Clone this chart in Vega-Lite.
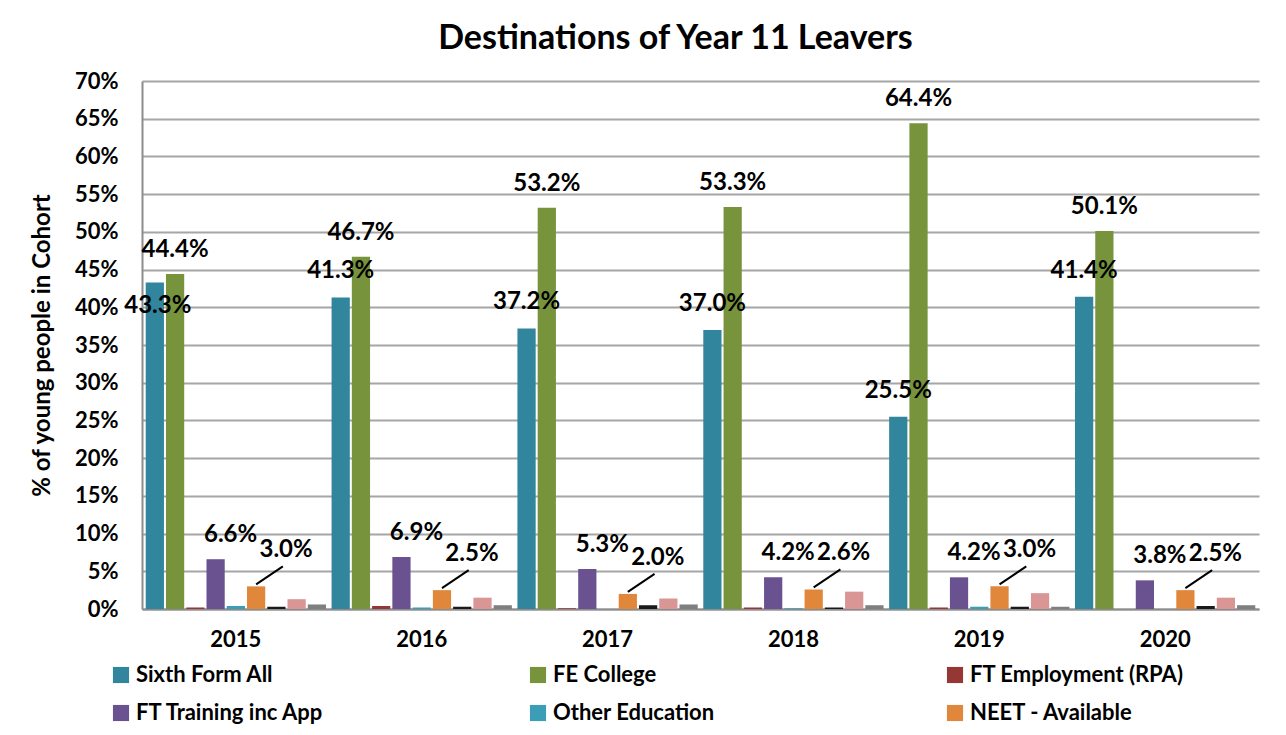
{
  "$schema": "https://vega.github.io/schema/vega-lite/v6.json",
  "width": 1117,
  "height": 528,
  "padding": {"left": 30, "top": 22, "right": 10, "bottom": 5},
  "background": "white",
  "title": {"text": "Destinations of Year 11 Leavers", "font": "Lato", "fontSize": 34, "fontWeight": "bold", "color": "black", "anchor": "middle", "dx": -25, "offset": 14},
  "data": {"values": [
    {"year": "2015", "series": "Sixth Form All", "value": 0.433},
    {"year": "2015", "series": "FE College", "value": 0.444},
    {"year": "2015", "series": "FT Employment (RPA)", "value": 0.002},
    {"year": "2015", "series": "FT Training inc App", "value": 0.066},
    {"year": "2015", "series": "Other Education", "value": 0.004},
    {"year": "2015", "series": "NEET - Available", "value": 0.030},
    {"year": "2015", "series": "NEET - Not Available", "value": 0.003},
    {"year": "2015", "series": "Not Known", "value": 0.013},
    {"year": "2015", "series": "Left Area", "value": 0.006},
    {"year": "2016", "series": "Sixth Form All", "value": 0.413},
    {"year": "2016", "series": "FE College", "value": 0.467},
    {"year": "2016", "series": "FT Employment (RPA)", "value": 0.004},
    {"year": "2016", "series": "FT Training inc App", "value": 0.069},
    {"year": "2016", "series": "Other Education", "value": 0.002},
    {"year": "2016", "series": "NEET - Available", "value": 0.025},
    {"year": "2016", "series": "NEET - Not Available", "value": 0.003},
    {"year": "2016", "series": "Not Known", "value": 0.015},
    {"year": "2016", "series": "Left Area", "value": 0.005},
    {"year": "2017", "series": "Sixth Form All", "value": 0.372},
    {"year": "2017", "series": "FE College", "value": 0.532},
    {"year": "2017", "series": "FT Employment (RPA)", "value": 0.001},
    {"year": "2017", "series": "FT Training inc App", "value": 0.053},
    {"year": "2017", "series": "Other Education", "value": 0.0},
    {"year": "2017", "series": "NEET - Available", "value": 0.020},
    {"year": "2017", "series": "NEET - Not Available", "value": 0.005},
    {"year": "2017", "series": "Not Known", "value": 0.014},
    {"year": "2017", "series": "Left Area", "value": 0.006},
    {"year": "2018", "series": "Sixth Form All", "value": 0.370},
    {"year": "2018", "series": "FE College", "value": 0.533},
    {"year": "2018", "series": "FT Employment (RPA)", "value": 0.002},
    {"year": "2018", "series": "FT Training inc App", "value": 0.042},
    {"year": "2018", "series": "Other Education", "value": 0.001},
    {"year": "2018", "series": "NEET - Available", "value": 0.026},
    {"year": "2018", "series": "NEET - Not Available", "value": 0.002},
    {"year": "2018", "series": "Not Known", "value": 0.023},
    {"year": "2018", "series": "Left Area", "value": 0.005},
    {"year": "2019", "series": "Sixth Form All", "value": 0.255},
    {"year": "2019", "series": "FE College", "value": 0.644},
    {"year": "2019", "series": "FT Employment (RPA)", "value": 0.002},
    {"year": "2019", "series": "FT Training inc App", "value": 0.042},
    {"year": "2019", "series": "Other Education", "value": 0.003},
    {"year": "2019", "series": "NEET - Available", "value": 0.030},
    {"year": "2019", "series": "NEET - Not Available", "value": 0.003},
    {"year": "2019", "series": "Not Known", "value": 0.021},
    {"year": "2019", "series": "Left Area", "value": 0.003},
    {"year": "2020", "series": "Sixth Form All", "value": 0.414},
    {"year": "2020", "series": "FE College", "value": 0.501},
    {"year": "2020", "series": "FT Employment (RPA)", "value": 0.0},
    {"year": "2020", "series": "FT Training inc App", "value": 0.038},
    {"year": "2020", "series": "Other Education", "value": 0.0},
    {"year": "2020", "series": "NEET - Available", "value": 0.025},
    {"year": "2020", "series": "NEET - Not Available", "value": 0.004},
    {"year": "2020", "series": "Not Known", "value": 0.015},
    {"year": "2020", "series": "Left Area", "value": 0.005}
  ]},
  "encoding": {
    "x": {"field": "year", "type": "nominal", "title": null,
      "scale": {"paddingInner": 0.03, "paddingOuter": 0.02},
      "axis": {"labelAngle": 0, "labelFont": "Lato", "labelFontSize": 22, "labelFontWeight": "bold", "labelColor": "black", "labelPadding": 20, "ticks": false, "domainColor": "#8C8C8C", "domainWidth": 2}},
    "xOffset": {"field": "series", "type": "nominal",
      "scale": {"domain": ["Sixth Form All", "FE College", "FT Employment (RPA)", "FT Training inc App", "Other Education", "NEET - Available", "NEET - Not Available", "Not Known", "Left Area"], "paddingInner": 0.1}},
    "y": {"field": "value", "type": "quantitative", "title": "% of young people in Cohort",
      "scale": {"domain": [0, 0.7], "nice": false},
      "axis": {"format": ".0%", "values": [0, 0.05, 0.1, 0.15, 0.2, 0.25, 0.3, 0.35, 0.4, 0.45, 0.5, 0.55, 0.6, 0.65, 0.7], "labelOverlap": false,
        "labelFont": "Lato", "labelFontSize": 22, "labelFontWeight": "bold", "labelColor": "black", "labelPadding": 24, "ticks": false,
        "domainColor": "#8C8C8C", "domainWidth": 2, "gridColor": "#A6A6A6", "gridWidth": 2,
        "titleFont": "Lato", "titleFontSize": 24, "titleFontWeight": "bold", "titleColor": "black", "titlePadding": 20}}
  },
  "layer": [
    {"mark": {"type": "bar"},
      "encoding": {"color": {"field": "series", "type": "nominal",
        "scale": {"domain": ["Sixth Form All", "FE College", "FT Employment (RPA)", "FT Training inc App", "Other Education", "NEET - Available", "NEET - Not Available", "Not Known", "Left Area"],
          "range": ["#31859C", "#77933C", "#953735", "#6A5190", "#3C9DB6", "#E0873C", "#1A1A1A", "#D99694", "#7F7F7F"]},
        "legend": {"values": ["Sixth Form All", "FE College", "FT Employment (RPA)", "FT Training inc App", "Other Education", "NEET - Available"],
          "title": null, "orient": "none", "direction": "horizontal", "legendX": -32, "legendY": 583, "columns": 3, "gridAlign": "all", "columnPadding": 177, "rowPadding": 16,
          "symbolType": "square", "symbolSize": 260, "symbolStrokeWidth": 0, "symbolOpacity": 1,
          "labelFont": "Lato", "labelFontSize": 22, "labelFontWeight": "bold", "labelColor": "black", "labelLimit": 400}}}},
    {"transform": [
        {"calculate": "datum.series === 'FE College' ? datum.value : 0", "as": "feValue"},
        {"joinaggregate": [{"op": "max", "field": "feValue", "as": "feMax"}], "groupby": ["year"]},
        {"filter": "datum.series === 'Sixth Form All' && datum.feMax - datum.value >= 0.03"}],
      "mark": {"type": "text", "font": "Lato", "fontSize": 24, "fontWeight": "bold", "baseline": "bottom", "dy": -14},
      "encoding": {"text": {"field": "value", "format": ".1%"}}},
    {"transform": [
        {"calculate": "datum.series === 'FE College' ? datum.value : 0", "as": "feValue"},
        {"joinaggregate": [{"op": "max", "field": "feValue", "as": "feMax"}], "groupby": ["year"]},
        {"filter": "datum.series === 'Sixth Form All' && datum.feMax - datum.value < 0.03"}],
      "mark": {"type": "text", "font": "Lato", "fontSize": 24, "fontWeight": "bold", "baseline": "top", "dy": 12, "dx": 3},
      "encoding": {"text": {"field": "value", "format": ".1%"}}},
    {"transform": [{"filter": "datum.series === 'FE College'"}],
      "mark": {"type": "text", "font": "Lato", "fontSize": 24, "fontWeight": "bold", "baseline": "bottom", "dy": -12},
      "encoding": {"text": {"field": "value", "format": ".1%"}}},
    {"transform": [{"filter": "datum.series === 'FT Training inc App'"}],
      "mark": {"type": "text", "font": "Lato", "fontSize": 24, "fontWeight": "bold", "baseline": "bottom", "dy": -12, "dx": 15},
      "encoding": {"text": {"field": "value", "format": ".1%"}}},
    {"transform": [{"filter": "datum.series === 'NEET - Available'"}],
      "mark": {"type": "rule", "color": "black", "strokeWidth": 2, "yOffset": -2, "y2Offset": -20, "x2Offset": 47},
      "encoding": {"x2": {"field": "year"}, "y2": {"field": "value"}}},
    {"transform": [{"filter": "datum.series === 'NEET - Available'"}],
      "mark": {"type": "text", "font": "Lato", "fontSize": 24, "fontWeight": "bold", "baseline": "bottom", "dy": -24, "dx": 30},
      "encoding": {"text": {"field": "value", "format": ".1%"}}}
  ],
  "config": {"view": {"stroke": null}}
}
